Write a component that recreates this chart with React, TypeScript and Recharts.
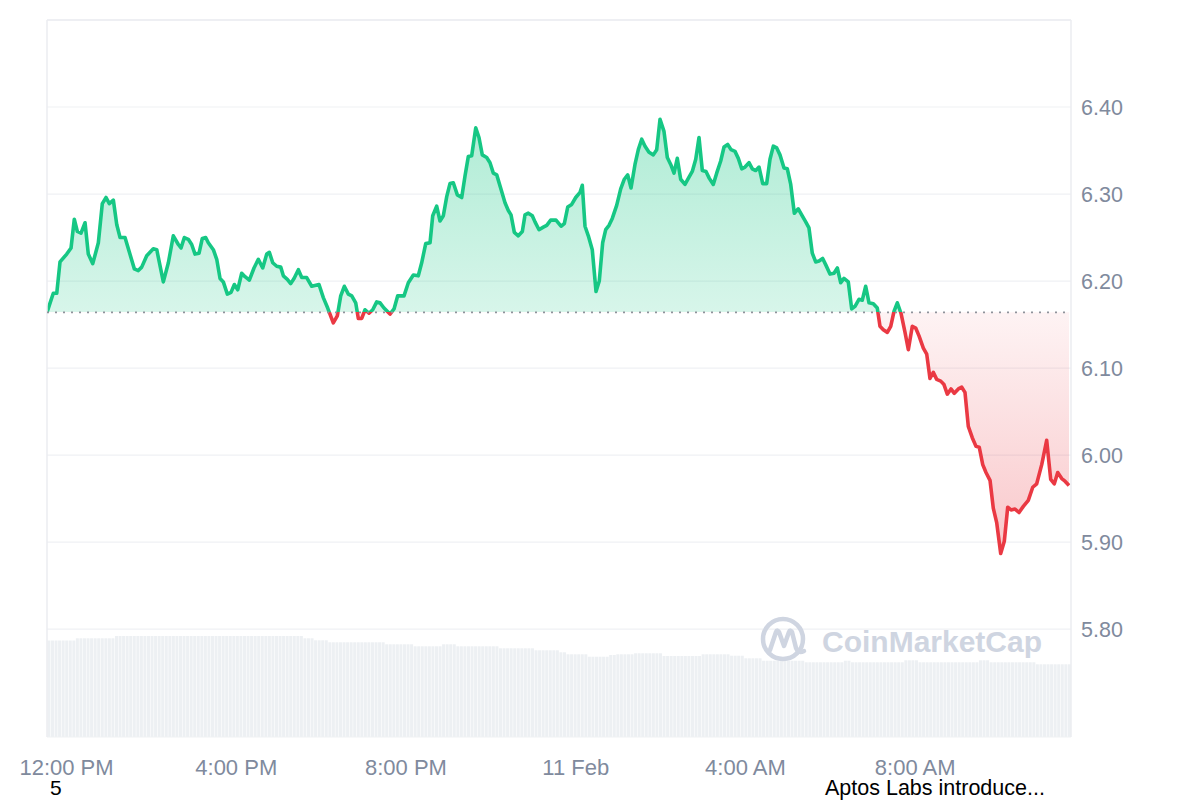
import React from "react";
import { AreaChart, Area, BarChart, Bar, XAxis, YAxis, CartesianGrid, ReferenceLine } from "recharts";

// minutes after 12:00 PM (10 Feb)
const minutes = [
  -27.6, -18.7, -13.8, -9.2, 0.3, 6.4, 11.0, 15.3, 20.5, 26.2,
  30.8, 37.1, 45.0, 50.6, 55.9, 60.5, 66.2, 71.0, 75.7, 82.7,
  95.9, 101.5, 106.3, 113.4, 122.7, 127.6, 136.9, 144.0, 151.0, 158.1,
  161.9, 166.6, 172.2, 177.0, 181.7, 187.4, 192.0, 196.8, 200.5, 207.6,
  212.4, 217.1, 221.7, 227.4, 232.6, 237.3, 242.1, 247.7, 252.4, 258.5,
  265.1, 271.2, 277.4, 283.1, 286.8, 291.6, 297.2, 302.9, 306.6, 312.2,
  317.0, 321.7, 327.8, 332.6, 339.6, 346.7, 357.0, 363.1, 369.3, 377.2,
  382.9, 387.7, 392.8, 398.5, 403.3, 408.9, 412.6, 417.4, 422.1, 427.7,
  433.0, 438.6, 443.3, 448.9, 457.4, 463.1, 468.3, 477.2, 483.3, 490.4,
  497.4, 502.2, 507.9, 514.0, 517.8, 523.4, 528.1, 532.8, 537.6, 542.2,
  546.9, 552.6, 558.8, 563.5, 568.1, 572.9, 578.6, 583.2, 587.9, 594.1,
  598.8, 603.5, 608.3, 615.3, 620.0, 624.7, 628.5, 633.2, 638.8, 644.5,
  648.3, 653.0, 658.6, 662.4, 668.1, 674.2, 679.0, 684.6, 692.1, 699.2,
  703.9, 708.7, 714.3, 720.0, 726.1, 729.3, 733.1, 737.8, 743.4, 748.7,
  753.3, 758.1, 762.4, 767.1, 771.7, 777.9, 783.6, 788.7, 793.5, 798.2,
  803.8, 808.5, 813.3, 818.0, 823.6, 829.7, 834.5, 839.2, 844.8, 849.5,
  854.3, 859.0, 863.6, 868.4, 874.5, 879.2, 884.8, 889.7, 894.3, 899.0,
  904.2, 908.9, 914.5, 919.3, 925.0, 929.7, 934.9, 939.6, 945.2, 949.9,
  954.7, 959.4, 965.0, 969.7, 974.5, 979.2, 984.4, 990.0, 994.7, 999.4,
  1004.2, 1008.8, 1014.5, 1019.2, 1024.0, 1029.1, 1034.7, 1039.5, 1045.2, 1049.8,
  1054.5, 1059.3, 1064.0, 1069.2, 1073.9, 1079.5, 1085.2, 1089.9, 1094.7, 1099.3,
  1105.4, 1110.2, 1114.9, 1120.5, 1125.2, 1130.0, 1134.7, 1140.8, 1146.4, 1150.2,
  1154.9, 1160.6, 1165.4, 1170.0, 1174.7, 1179.9, 1185.6, 1190.3, 1195.9, 1200.7,
  1205.4, 1211.5, 1216.3, 1220.9, 1225.6, 1230.4, 1236.1, 1240.7, 1245.4, 1250.6,
  1255.3, 1261.0, 1265.8, 1270.4, 1275.1, 1280.7, 1286.0, 1290.6, 1295.5, 1300.1,
  1305.8, 1310.4, 1315.3, 1320.9, 1326.0, 1330.8, 1335.5, 1341.1, 1346.8, 1352.9,
  1359.9, 1366.2, 1371.8, 1378.9, 1385.9, 1391.6, 1396.7, 1401.5, 1407.2, 1411.8, 1417.5,
];

const prices = [
  6.164, 6.186, 6.186, 6.222, 6.231, 6.238, 6.271, 6.257, 6.255, 6.267,
  6.231, 6.220, 6.244, 6.289, 6.296, 6.289, 6.293, 6.265, 6.250, 6.250,
  6.214, 6.212, 6.216, 6.229, 6.237, 6.236, 6.199, 6.221, 6.252, 6.242,
  6.238, 6.250, 6.248, 6.242, 6.231, 6.232, 6.249, 6.250, 6.244, 6.236,
  6.225, 6.203, 6.199, 6.185, 6.187, 6.196, 6.190, 6.209, 6.205, 6.201,
  6.215, 6.225, 6.215, 6.231, 6.233, 6.221, 6.217, 6.216, 6.206, 6.202,
  6.197, 6.203, 6.213, 6.204, 6.204, 6.194, 6.196, 6.181, 6.169, 6.152,
  6.160, 6.183, 6.194, 6.185, 6.183, 6.175, 6.157, 6.157, 6.167, 6.163,
  6.167, 6.176, 6.175, 6.169, 6.162, 6.168, 6.183, 6.183, 6.198, 6.207,
  6.206, 6.221, 6.243, 6.244, 6.275, 6.286, 6.269, 6.275, 6.297, 6.312,
  6.313, 6.299, 6.296, 6.321, 6.343, 6.344, 6.376, 6.365, 6.345, 6.342,
  6.336, 6.324, 6.322, 6.303, 6.290, 6.281, 6.276, 6.256, 6.252, 6.257,
  6.276, 6.278, 6.275, 6.268, 6.259, 6.262, 6.264, 6.270, 6.270, 6.263,
  6.266, 6.285, 6.288, 6.296, 6.302, 6.310, 6.263, 6.252, 6.236, 6.188,
  6.200, 6.244, 6.259, 6.264, 6.272, 6.287, 6.306, 6.317, 6.322, 6.307,
  6.334, 6.351, 6.363, 6.355, 6.348, 6.345, 6.351, 6.386, 6.372, 6.342,
  6.334, 6.324, 6.341, 6.317, 6.311, 6.318, 6.326, 6.340, 6.365, 6.327,
  6.326, 6.318, 6.311, 6.324, 6.338, 6.354, 6.357, 6.351, 6.349, 6.341,
  6.329, 6.331, 6.336, 6.329, 6.327, 6.331, 6.312, 6.312, 6.340, 6.355,
  6.353, 6.345, 6.330, 6.329, 6.311, 6.278, 6.283, 6.276, 6.268, 6.261,
  6.232, 6.222, 6.223, 6.226, 6.218, 6.208, 6.209, 6.215, 6.198, 6.203,
  6.199, 6.168, 6.171, 6.179, 6.178, 6.194, 6.175, 6.174, 6.169, 6.148,
  6.144, 6.141, 6.148, 6.165, 6.175, 6.163, 6.141, 6.121, 6.148, 6.146,
  6.137, 6.123, 6.116, 6.088, 6.095, 6.087, 6.085, 6.081, 6.070, 6.076,
  6.071, 6.076, 6.078, 6.072, 6.033, 6.020, 6.010, 6.009, 5.989, 5.980,
  5.971, 5.939, 5.922, 5.887, 5.901, 5.940, 5.937, 5.938, 5.934, 5.941,
  5.948, 5.963, 5.967, 5.989, 6.017, 5.972, 5.967, 5.980, 5.973, 5.970, 5.965,
];

// 5-minute volume bars (relative units)
const volumes = [
  96.5, 96.5, 96.5, 96.5, 96.5, 96.5, 96.5, 96.5,
  98.7, 98.7, 98.7, 98.7, 98.7, 98.7, 98.7, 98.7, 98.7, 98.7, 98.7,
  101, 101, 101, 101, 101, 101, 101, 101, 101, 101, 101, 101, 101, 101, 101, 101, 101, 101,
  101, 101, 101, 101, 101, 101, 101, 101, 101, 101, 101, 101, 101, 101, 101, 101, 101, 101,
  101, 101, 101, 101, 101, 101, 101, 101, 101, 101, 101, 101, 101, 101, 101, 101, 101,
  98.7, 98.7, 98.7,
  96.7, 96.7, 96.7, 96.7,
  94.7, 94.7, 94.7, 94.7, 94.7, 94.7, 94.7, 94.7, 94.7, 94.7, 94.7, 94.7, 94.7, 94.7, 94.7, 94.7,
  92.7, 92.7, 92.7, 92.7, 92.7, 92.7, 92.7, 92.7,
  90.7, 90.7, 90.7, 90.7, 90.7, 90.7, 90.7, 90.7,
  92.7, 92.7, 92.7, 92.7,
  90.7, 90.7, 90.7, 90.7, 90.7, 90.7, 90.7, 90.7, 90.7, 90.7, 90.7, 90.7,
  88.7, 88.7, 88.7, 88.7, 88.7, 88.7, 88.7, 88.7, 88.7, 88.7,
  86.7, 86.7, 86.7, 86.7, 86.7, 86.7, 86.7,
  84.7, 84.7,
  82.7, 82.7, 82.7, 82.7, 82.7, 82.7,
  80.3, 80.3, 80.3, 80.3, 80.3, 80.3,
  82, 82,
  82.7, 82.7, 82.7, 82.7, 82.7,
  83.7, 83.7, 83.7, 83.7, 83.7, 83.7, 83.7, 83.7,
  81, 81, 81, 81, 81, 81, 81, 81, 81, 81, 81,
  82.7, 82.7, 82.7, 82.7, 82.7, 82.7, 82.7, 82.7,
  81.3, 81.3, 81.3, 81.3,
  78.7, 78.7, 78.7, 78.7, 78.7,
  76.3, 76.3, 76.3, 76.3, 76.3, 76.3, 76.3, 76.3, 76.3, 76.3, 76.3, 76.3,
  74.7, 74.7, 74.7, 74.7, 74.7, 74.7, 74.7, 74.7, 74.7, 74.7, 74.7,
  76.3, 76.3,
  74.7, 74.7, 74.7, 74.7, 74.7, 74.7, 74.7, 74.7, 74.7, 74.7, 74.7, 74.7, 74.7, 74.7, 74.7,
  76.7, 76.7, 76.7, 76.7,
  74.7, 74.7, 74.7, 74.7, 74.7, 74.7, 74.7, 74.7, 74.7, 74.7, 74.7, 74.7, 74.7, 74.7, 74.7, 74.7, 74.7,
  76.7, 76.7, 76.7,
  74.7, 74.7, 74.7, 74.7, 74.7, 74.7, 74.7, 74.7, 74.7, 74.7, 74.7, 74.7, 74.7,
  72.7, 72.7, 72.7, 72.7, 72.7, 72.7, 72.7, 72.7, 72.7, 72.7,
];

const timeTicks = [0, 240, 480, 720, 960, 1200];
const timeLabels = ["12:00 PM", "4:00 PM", "8:00 PM", "11 Feb", "4:00 AM", "8:00 AM"];
const priceTicks = [5.8, 5.9, 6.0, 6.1, 6.2, 6.3, 6.4];
const openPrice = 6.164;
const priceDomain: [number, number] = [5.676, 6.5];
const timeDomain: [number, number] = [-27.6, 1420.3];
const volumeDomain: [number, number] = [0, 717];

const W = 1200;
const H = 800;
const TOP = 20;
const LEFT = 47;
const Y_AXIS_W = 129;
const X_AXIS_H = 63;
const PLOT_H = H - TOP - X_AXIS_H;

const GREEN = "#16c784";
const RED = "#ea3943";
const LABEL = "#808a9d";
const FONT = "'Liberation Sans', Arial, Helvetica, sans-serif";

const priceData = minutes.map((t, i) => ({ t, price: prices[i] }));
const volumeData = volumes.map((v, i) => ({ i, v }));

const splitFrac = (priceDomain[1] - openPrice) / (priceDomain[1] - priceDomain[0]);

export default function App() {
  return (
    <div style={{ position: "relative", width: W, height: H, overflow: "hidden", fontFamily: FONT, background: "#fff" }}>
      <style>{"body{margin:0;}"}</style>
      <div style={{ position: "absolute", left: 0, top: 0 }}>
        <BarChart
          width={W}
          height={H}
          data={volumeData}
          margin={{ top: TOP, right: Y_AXIS_W, bottom: X_AXIS_H, left: LEFT }}
          barCategoryGap="12%"
        >
          <XAxis dataKey="i" hide />
          <YAxis hide domain={volumeDomain} allowDataOverflow />
          <Bar dataKey="v" fill="#edf0f3" isAnimationActive={false} />
        </BarChart>
      </div>
      <div style={{ position: "absolute", left: 0, top: 0 }}>
        <AreaChart width={W} height={H} data={priceData} margin={{ top: TOP, right: 0, bottom: 0, left: LEFT }}>
          <defs>
            <linearGradient id="lineGrad" gradientUnits="userSpaceOnUse" x1="0" y1={TOP} x2="0" y2={TOP + PLOT_H}>
              <stop offset={splitFrac} stopColor={GREEN} />
              <stop offset={splitFrac} stopColor={RED} />
            </linearGradient>
            <linearGradient id="fillGrad" gradientUnits="userSpaceOnUse" x1="0" y1={TOP} x2="0" y2={TOP + PLOT_H}>
              <stop offset={0} stopColor={GREEN} stopOpacity={0.43} />
              <stop offset={splitFrac} stopColor={GREEN} stopOpacity={0.17} />
              <stop offset={splitFrac} stopColor={RED} stopOpacity={0.06} />
              <stop offset={1} stopColor={RED} stopOpacity={0.45} />
            </linearGradient>
          </defs>
          <CartesianGrid vertical={false} stroke="#eff1f4" strokeWidth={1.2} />
          <XAxis
            type="number"
            dataKey="t"
            domain={timeDomain}
            allowDataOverflow
            ticks={timeTicks}
            interval={0}
            tickFormatter={(v: number) => timeLabels[timeTicks.indexOf(v)] ?? ""}
            axisLine={false}
            tickLine={false}
            height={X_AXIS_H}
            tickMargin={16}
            tick={{ fill: LABEL, fontSize: 22, fontFamily: FONT }}
          />
          <YAxis
            orientation="right"
            width={Y_AXIS_W}
            domain={priceDomain}
            allowDataOverflow
            ticks={priceTicks}
            interval={0}
            tickFormatter={(v: number) => v.toFixed(2)}
            axisLine={false}
            tickLine={false}
            tickMargin={4}
            tick={{ fill: LABEL, fontSize: 21.5, fontFamily: FONT }}
          />
          <ReferenceLine y={priceDomain[1]} stroke="#ebedf0" strokeWidth={1.5} />
          <ReferenceLine x={timeDomain[0]} stroke="#ebedf0" strokeWidth={1.5} />
          <ReferenceLine x={timeDomain[1]} stroke="#ebedf0" strokeWidth={1.5} />
          <Area
            type="linear"
            dataKey="price"
            baseValue={openPrice}
            stroke="url(#lineGrad)"
            strokeWidth={3.6}
            strokeLinejoin="round"
            fill="url(#fillGrad)"
            fillOpacity={1}
            dot={false}
            activeDot={false}
            isAnimationActive={false}
          />
          <ReferenceLine
            segment={[
              { x: minutes[0], y: openPrice },
              { x: minutes[minutes.length - 1], y: openPrice },
            ]}
            stroke="#8f939b"
            strokeWidth={1.8}
            strokeDasharray="2 6"
          />
        </AreaChart>
      </div>
      <svg width={W} height={H} style={{ position: "absolute", left: 0, top: 0, pointerEvents: "none" }}>
        <g stroke="#cfd5e1" strokeWidth={4.5} fill="none" strokeLinecap="round" strokeLinejoin="round">
          <circle cx={783} cy={639} r={20} />
          <path d="M770,650 L776,632 Q777,629 779,632 L784,646 L789,632 Q790,629 792,632 L796,648 Q798,654 804,651" />
        </g>
        <text x={822} y={652} fontSize={30} fontWeight={700} fill="#cfd5e1" fontFamily={FONT}>
          CoinMarketCap
        </text>
        <text x={50} y={795} fontSize={21} fill="#000" fontFamily={FONT}>
          5
        </text>
        <text x={825} y={795} fontSize={21.5} fill="#000" fontFamily={FONT}>
          Aptos Labs introduce...
        </text>
      </svg>
    </div>
  );
}
